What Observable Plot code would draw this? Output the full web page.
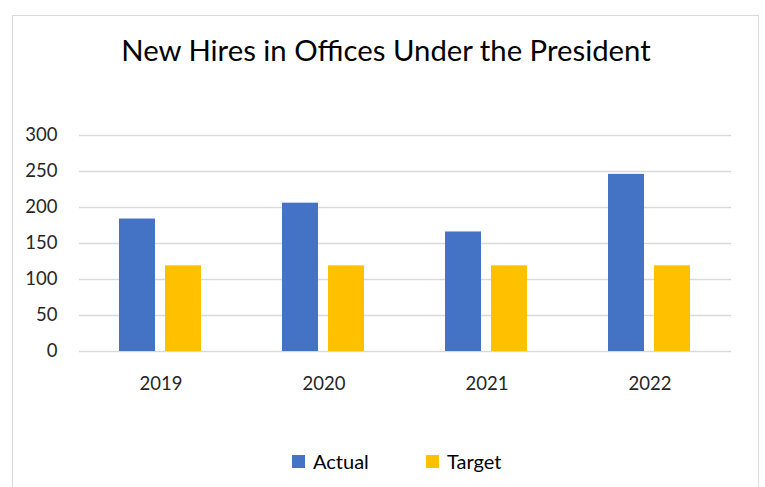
<!DOCTYPE html>
<html>
<head>
<meta charset="utf-8">
<script src="https://cdn.jsdelivr.net/npm/d3@7"></script>
<script src="https://cdn.jsdelivr.net/npm/@observablehq/plot@0.6"></script>
<style>
  html, body { margin: 0; padding: 0; background: #fff; }
  #wrap { position: relative; width: 765px; height: 487px; overflow: hidden; font-family: Lato, "Open Sans", sans-serif; }
  #frame { position: absolute; left: 12px; top: 15px; width: 747px; height: 480px; border: 1.5px solid #d9d9d9; box-sizing: border-box; }
  #title { position: absolute; left: 12px; width: 748px; top: 33px; text-align: center; font-size: 29.3px; color: #000; line-height: 34px; }
  #chart { position: absolute; left: 0; top: 100px; }
  #legend { position: absolute; left: 0; top: 450px; width: 765px; height: 22px; font-size: 20px; color: #000; }
  .item { position: absolute; top: 0; display: flex; align-items: center; height: 22px; }
  .sw { width: 13px; height: 13px; margin-right: 8px; }
</style>
</head>
<body>
<div id="wrap">
  <div id="frame"></div>
  <div id="title"></div>
  <div id="chart"></div>
  <div id="legend"></div>
</div>
<script>
const title = "New Hires in Offices Under the President";
const years = ["2019", "2020", "2021", "2022"];
const seriesNames = ["Actual", "Target"];
const actual = [184, 206, 166, 246];
const target = [119, 119, 119, 119];
const colors = ["#4472C4", "#FFC000"];
const yTicks = [0, 50, 100, 150, 200, 250, 300];

document.getElementById("title").textContent = title;

const data = [];
years.forEach((y, i) => {
  data.push({year: y, series: seriesNames[0], value: actual[i]});
  data.push({year: y, series: seriesNames[1], value: target[i]});
});

const chart = Plot.plot({
  width: 765,
  height: 300,
  marginTop: 35,
  marginBottom: 49,
  marginLeft: 79,
  marginRight: 34,
  style: { fontFamily: "Lato, 'Open Sans', sans-serif", fontSize: "18.5px", color: "#262626", background: "transparent" },
  fx: { domain: years, padding: 0, label: null },
  x: { domain: seriesNames, paddingInner: 0.214, paddingOuter: 0.852, axis: null },
  y: { domain: [0, 300], ticks: yTicks, label: null },
  color: { domain: seriesNames, range: colors },
  marks: [
    Plot.gridY(yTicks, { stroke: "#d9d9d9", strokeOpacity: 1, strokeWidth: 1.3 }),
    Plot.axisY(yTicks, { tickSize: 0, tickPadding: 22, fontSize: 18.5, fill: "#262626", label: null }),
    Plot.axisFx({ anchor: "bottom", tickSize: 0, tickPadding: 25, fontSize: 18.5, fill: "#262626", label: null }),
    Plot.barY(data, { fx: "year", x: "series", y: "value", fill: "series" })
  ]
});
document.getElementById("chart").appendChild(chart);

const legend = document.getElementById("legend");
const legendX = [292, 426];
seriesNames.forEach((s, i) => {
  const it = document.createElement("div");
  it.className = "item";
  it.style.left = legendX[i] + "px";
  const sw = document.createElement("div");
  sw.className = "sw";
  sw.style.background = colors[i];
  const t = document.createElement("span");
  t.textContent = s;
  it.appendChild(sw);
  it.appendChild(t);
  legend.appendChild(it);
});
</script>
</body>
</html>
